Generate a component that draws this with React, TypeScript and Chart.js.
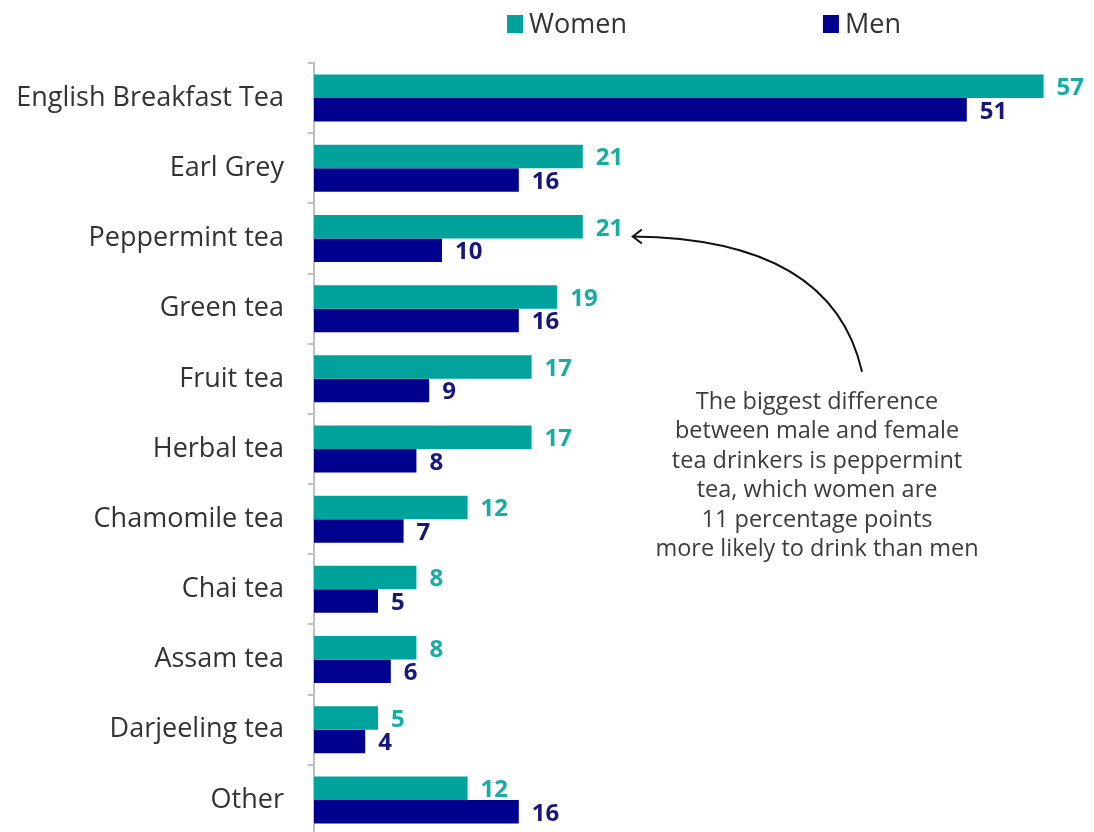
import React, { useEffect, useRef } from "react";
import { Chart, registerables } from "chart.js";

Chart.register(...registerables);

const CATEGORIES = [
  "English Breakfast Tea",
  "Earl Grey",
  "Peppermint tea",
  "Green tea",
  "Fruit tea",
  "Herbal tea",
  "Chamomile tea",
  "Chai tea",
  "Assam tea",
  "Darjeeling tea",
  "Other",
];
const WOMEN = [57, 21, 21, 19, 17, 17, 12, 8, 8, 5, 12];
const MEN = [51, 16, 10, 16, 9, 8, 7, 5, 6, 4, 16];
const SERIES_NAMES = ["Women", "Men"];
const X_MAX = 60;

const NOTE_LINES = [
  "The biggest difference",
  "between male and female",
  "tea drinkers is peppermint",
  "tea, which women are",
  "11 percentage points",
  "more likely to drink than men",
];
const NOTE_TARGET_INDEX = 2; // Peppermint tea, women

const TEAL = "#00A39B";
const NAVY = "#00008E";
const TEAL_TEXT = "#17ADA5";
const NAVY_TEXT = "#16167C";
const FONT = "'Open Sans', Lato, sans-serif";

const valueLabels = {
  id: "valueLabels",
  afterDatasetsDraw(chart: any) {
    const ctx = chart.ctx;
    ctx.save();
    ctx.font = `bold 24px ${FONT}`;
    ctx.textAlign = "left";
    ctx.textBaseline = "middle";
    chart.data.datasets.forEach((ds: any, di: number) => {
      const meta = chart.getDatasetMeta(di);
      ctx.fillStyle = di === 0 ? TEAL_TEXT : NAVY_TEXT;
      meta.data.forEach((bar: any, i: number) => {
        ctx.fillText(String(ds.data[i]), bar.x + 13, bar.y + 2);
      });
    });
    ctx.restore();
  },
};

const topLegend = {
  id: "topLegend",
  afterDraw(chart: any) {
    const ctx = chart.ctx;
    const { left, right } = chart.chartArea;
    ctx.save();
    ctx.font = `27px ${FONT}`;
    ctx.textBaseline = "middle";
    ctx.textAlign = "left";
    const colors = [TEAL, NAVY];
    const box = 16;
    const gapText = 6;
    const gapItems = 196;
    const widths = SERIES_NAMES.map((n) => box + gapText + ctx.measureText(n).width);
    const total = widths.reduce((a, b) => a + b, 0) + gapItems * (SERIES_NAMES.length - 1);
    let x = (left + right) / 2 + 6 - total / 2;
    const cy = 24;
    SERIES_NAMES.forEach((n, i) => {
      ctx.fillStyle = colors[i];
      ctx.fillRect(x, cy - 9, box, 18);
      ctx.fillStyle = "#333333";
      ctx.fillText(n, x + box + gapText, cy + 1);
      x += widths[i] + gapItems;
    });
    ctx.restore();
  },
};

const annotation = {
  id: "annotation",
  afterDraw(chart: any) {
    const ctx = chart.ctx;
    const xs = chart.scales.x;
    const ys = chart.scales.y;
    const cx = xs.getPixelForValue(39.3);
    const firstLine = ys.getPixelForValue(4) + 23;
    const lh = 29.5;
    ctx.save();
    ctx.font = `23.5px ${FONT}`;
    ctx.fillStyle = "#3c3c3c";
    ctx.textAlign = "center";
    ctx.textBaseline = "middle";
    NOTE_LINES.forEach((l, i) => ctx.fillText(l, cx, firstLine + i * lh));

    // arrow
    const bar = chart.getDatasetMeta(0).data[NOTE_TARGET_INDEX];
    const tipX = bar.x + 50;
    const tipY = ys.getPixelForValue(NOTE_TARGET_INDEX) - 2;
    const sx = cx + 45;
    const sy = firstLine - 30;
    ctx.strokeStyle = "#111111";
    ctx.lineWidth = 2;
    ctx.beginPath();
    ctx.moveTo(sx, sy);
    ctx.quadraticCurveTo(sx - 30, tipY + 2, tipX, tipY);
    ctx.stroke();
    ctx.beginPath();
    ctx.moveTo(tipX + 9, tipY - 7);
    ctx.lineTo(tipX, tipY);
    ctx.lineTo(tipX + 9, tipY + 7);
    ctx.stroke();
    ctx.restore();
  },
};

export default function App() {
  const ref = useRef<HTMLCanvasElement | null>(null);
  useEffect(() => {
    if (!ref.current) return;
    const chart = new Chart(ref.current, {
      type: "bar",
      data: {
        labels: CATEGORIES,
        datasets: [
          {
            label: SERIES_NAMES[0],
            data: WOMEN,
            backgroundColor: TEAL,
            categoryPercentage: 0.67,
            barPercentage: 1,
          },
          {
            label: SERIES_NAMES[1],
            data: MEN,
            backgroundColor: NAVY,
            categoryPercentage: 0.67,
            barPercentage: 1,
          },
        ],
      },
      options: {
        indexAxis: "y",
        responsive: false,
        maintainAspectRatio: false,
        devicePixelRatio: 1,
        animation: false,
        layout: { padding: { top: 63, right: 12, left: 0, bottom: 1 } },
        plugins: {
          legend: { display: false },
          tooltip: { enabled: false },
        },
        scales: {
          x: { min: 0, max: X_MAX, display: false },
          y: {
            afterFit(s: any) {
              s.width = 314;
              s.paddingTop = 0;
              s.paddingBottom = 0;
            },
            border: { display: true, color: "#c0c0c0", width: 2 },
            grid: {
              display: true,
              drawOnChartArea: false,
              tickLength: 6,
              color: "#c0c0c0",
              lineWidth: 2,
              offset: true,
            },
            ticks: {
              color: "#333333",
              font: { family: FONT, size: 27 },
              padding: 24,
            },
          },
        },
      },
      plugins: [valueLabels, topLegend, annotation],
    } as any);
    return () => chart.destroy();
  }, []);
  return (
    <div style={{ position: "fixed", left: 0, top: 0, width: 1094, height: 836, overflow: "hidden", background: "#fff" }}>
      <canvas ref={ref} width={1094} height={836} style={{ display: "block" }} />
    </div>
  );
}
